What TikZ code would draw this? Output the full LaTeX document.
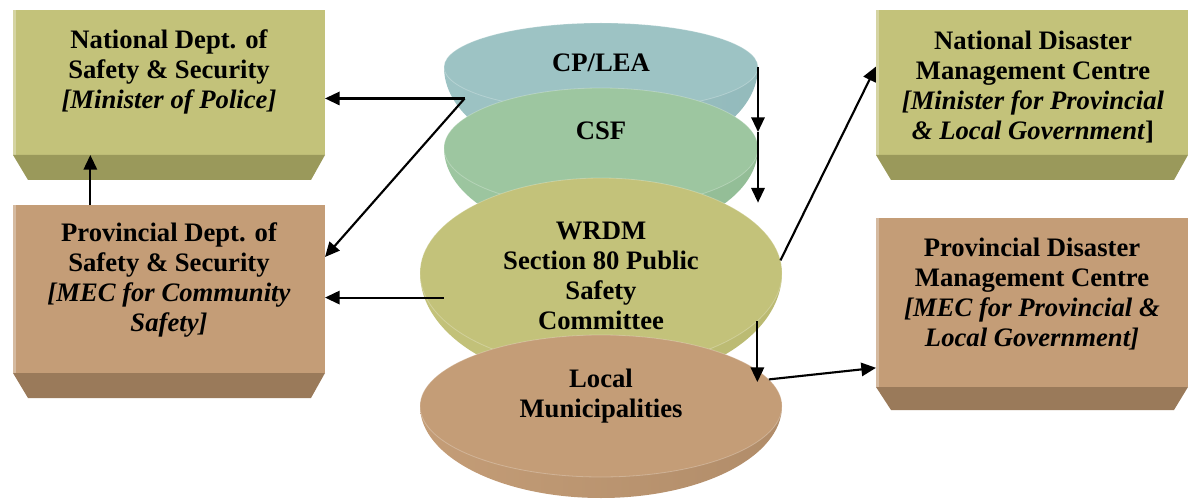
\documentclass[tikz,border=0pt]{standalone}
\usepackage{fontspec}
\setmainfont{Liberation Serif}
\usetikzlibrary{arrows.meta,shapes.geometric}

\definecolor{oliveface}{RGB}{195,194,122}
\definecolor{olivebevel}{RGB}{154,153,91}
\definecolor{tanface}{RGB}{196,157,119}
\definecolor{tanbevel}{RGB}{154,122,90}
\definecolor{tealface}{RGB}{157,195,196}
\definecolor{tealside}{RGB}{138,178,180}
\definecolor{greenface}{RGB}{157,198,160}
\definecolor{greenside}{RGB}{136,180,140}
\definecolor{oliveside}{RGB}{178,178,106}
\definecolor{tanside}{RGB}{158,124,92}

% darker slanted strip under a box
\newcommand{\bevel}[3]{\fill[#2] (#1.south west) -- (#1.south east) -- ++(-14,#3) -- ++(-283,0) -- cycle;}
% lower body of a dish, drawn before its top face
\newcommand{\dishbase}[5]{\shade[left color=#2, middle color=#3, right color=#2!50!#3] ([xshift=-#4]#1) arc[start angle=180, end angle=360, x radius=#4, y radius=#5] -- cycle;}

\tikzset{
  deptbox/.style={
    rectangle,
    inner sep=0pt,
    outer sep=0pt,
    minimum width=234pt,
    path picture={
      \fill[white, opacity=.3] (path picture bounding box.south west) rectangle ([xshift=2pt]path picture bounding box.north west);
    }
  },
  dish/.style={
    ellipse,
    inner sep=0pt,
    outer sep=0pt,
    draw=white, draw opacity=.25, line width=.6pt
  },
  boxtext/.style={
    align=center,
    inner sep=0pt,
    font=\fontsize{20}{22.5}\selectfont\bfseries
  },
  arrow/.style={
    -{Triangle[length=11pt,width=10pt]},
    line width=1.6pt,
    draw=black
  }
}

\begin{document}
\begin{tikzpicture}[x=0.75pt, y=-0.75pt]
  \useasboundingbox (0,0) rectangle (1188,499);

  % left column
  \node[deptbox, fill=oliveface, minimum height=108.75pt] (natdept) at (169,82.5) {};
  \bevel{natdept}{olivebevel}{25}
  \node[boxtext] (natdept-txt) at (169,72) {National Dept. of\\Safety \& Security\\\textit{[Minister of Police]}};

  \node[deptbox, fill=tanface, minimum height=126pt] (provdept) at (169,289) {};
  \bevel{provdept}{tanbevel}{25}
  \node[boxtext] (provdept-txt) at (169,280) {Provincial Dept. of\\Safety \& Security\\\textit{[MEC for Community}\\\textit{Safety]}};

  % right column
  \node[deptbox, fill=oliveface, minimum height=108.75pt] (natdis) at (1032,82.5) {};
  \bevel{natdis}{olivebevel}{25}
  \node[boxtext] (natdis-txt) at (1033,87) {National Disaster\\Management Centre\\\textit{[Minister for Provincial}\\\textit{\& Local Government}]};

  \node[deptbox, fill=tanface, minimum height=126.75pt] (provdis) at (1032,302.5) {};
  \bevel{provdis}{tanbevel}{23}
  \node[boxtext] (provdis-txt) at (1032,294) {Provincial Disaster\\Management Centre\\\textit{[MEC for Provincial \&}\\\textit{Local Government]}};

  % stacked dishes in the middle
  \coordinate (cplea-c) at (601,67);
  \dishbase{cplea-c}{tealface}{tealside}{117.75pt}{71.25pt}
  \node[dish, fill=tealface, minimum width=235.5pt, minimum height=66pt] (cplea) at (cplea-c) {};
  \node[boxtext] (cplea-txt) at (601,63) {CP/LEA};

  \coordinate (csf-c) at (601,148);
  \dishbase{csf-c}{greenface}{greenside}{117.75pt}{67.5pt}
  \node[dish, fill=greenface, minimum width=235.5pt, minimum height=90pt] (csf) at (csf-c) {};
  \node[boxtext] (csf-txt) at (601,131) {CSF};

  \coordinate (wrdm-c) at (601,273);
  \dishbase{wrdm-c}{oliveface}{oliveside}{135.75pt}{84pt}
  \node[dish, fill=oliveface, minimum width=271.5pt, minimum height=142.5pt] (wrdm) at (wrdm-c) {};
  \node[boxtext] (wrdm-txt) at (601,276) {WRDM\\Section 80 Public\\Safety\\Committee};

  \coordinate (local-c) at (601,406);
  \dishbase{local-c}{tanface}{tanside}{135.75pt}{69pt}
  \node[dish, fill=tanface, minimum width=271.5pt, minimum height=106.5pt] (local) at (local-c) {};
  \node[boxtext] (local-txt) at (601,396) {Local\\Municipalities};

  % reporting lines
  \draw[arrow] ([xshift=-20pt]cplea.196) -- (cplea.196 -| natdept.east);
  \draw[arrow] ([xshift=-20pt]cplea.196) -- ([yshift=24pt]provdept.east);
  \draw[arrow] ([xshift=13pt]wrdm.188) -- (wrdm.188 -| provdept.east);
  \draw[arrow] ([xshift=-59pt]provdept.north) -- ([xshift=-59pt]natdept.south);
  \draw[arrow] (cplea.east) -- ([yshift=12pt]csf.east);
  \draw[arrow] ([yshift=12pt]csf.east) -- ([yshift=-41pt]csf.east);
  \draw[arrow] (wrdm.4) -- ([yshift=12pt]natdis.west);
  \draw[arrow] (wrdm.-17) -- (wrdm.-17 |- local.8);
  \draw[arrow] (local.9) -- ([yshift=-49pt]provdis.west);
\end{tikzpicture}
\end{document}
